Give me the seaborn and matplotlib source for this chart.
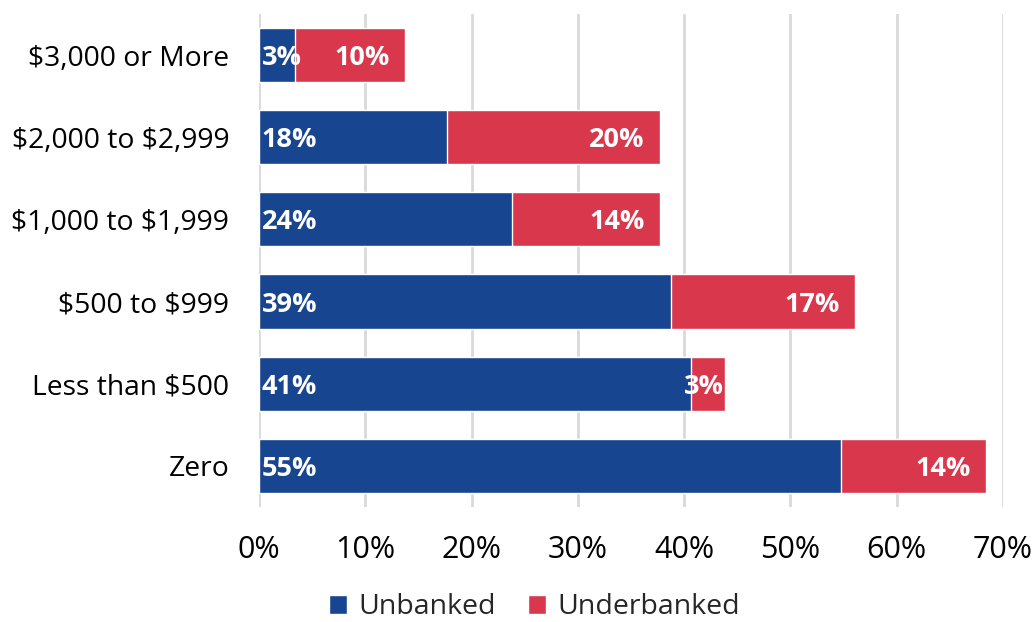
import matplotlib
matplotlib.use("Agg")
import matplotlib.pyplot as plt
import seaborn as sns
import pandas as pd
from matplotlib.patches import Patch

# Share of households by savings level
categories = ["$3,000 or More", "$2,000 to $2,999", "$1,000 to $1,999",
              "$500 to $999", "Less than $500", "Zero"]
unbanked = [3.4, 17.7, 23.8, 38.8, 40.6, 54.8]
underbanked = [10.3, 20.0, 13.9, 17.3, 3.2, 13.6]
x_ticks = [0, 10, 20, 30, 40, 50, 60, 70]

BLUE = "#17458f"
RED = "#d9374b"

sns.set_theme(style="white")
plt.rcParams["font.family"] = ["Open Sans", "DejaVu Sans"]
plt.rcParams["text.parse_math"] = False

df = pd.DataFrame({"cat": categories, "unbanked": unbanked,
                   "underbanked": underbanked})
df["total"] = df["unbanked"] + df["underbanked"]

fig = plt.figure(figsize=(10.34, 6.22), dpi=100)
ax = fig.add_axes([0.2505, 0.185, 0.7195, 0.7925])

sns.barplot(data=df, x="total", y="cat", color=RED, saturation=1,
            width=0.66, ax=ax, zorder=2)
sns.barplot(data=df, x="unbanked", y="cat", color=BLUE, saturation=1,
            width=0.66, ax=ax, zorder=3)

ax.set_xlim(0, 70)
ax.set_ylim(5.5, -0.5)
ax.set_xticks(x_ticks)
ax.set_xticklabels([f"{t}%" for t in x_ticks])
ax.set_xlabel("")
ax.set_ylabel("")
ax.xaxis.grid(True, color="#d9d9d9", linewidth=2, zorder=0)
ax.set_axisbelow(True)
for s in ax.spines.values():
    s.set_visible(False)
ax.tick_params(axis="x", labelsize=22, colors="black", length=0, pad=20)
ax.tick_params(axis="y", labelsize=20.3, colors="black", length=0, pad=21.5)

# value labels inside the segments
for i, row in df.iterrows():
    ax.annotate(f"{row['unbanked']:.0f}%", xy=(0, i), xytext=(2.0, 0),
                textcoords="offset points", ha="left", va="center_baseline",
                color="white", fontsize=19.5, fontweight="bold", zorder=5)
    pad = -0.7 if row["underbanked"] < 5 else -10.8
    ax.annotate(f"{row['underbanked']:.0f}%", xy=(row["total"], i),
                xytext=(pad, 0), textcoords="offset points", ha="right",
                va="center_baseline", color="white", fontsize=19.5,
                fontweight="bold", zorder=5)

handles = [Patch(facecolor=BLUE, label="Unbanked"),
           Patch(facecolor=RED, label="Underbanked")]
fig.legend(handles=handles, loc="center", bbox_to_anchor=(0.517, 0.024),
           ncol=2, frameon=False, fontsize=20.5, handlelength=0.65,
           handleheight=0.65, handletextpad=0.4, columnspacing=1.1,
           borderpad=0.1)

fig.savefig("out.png", dpi=100)
